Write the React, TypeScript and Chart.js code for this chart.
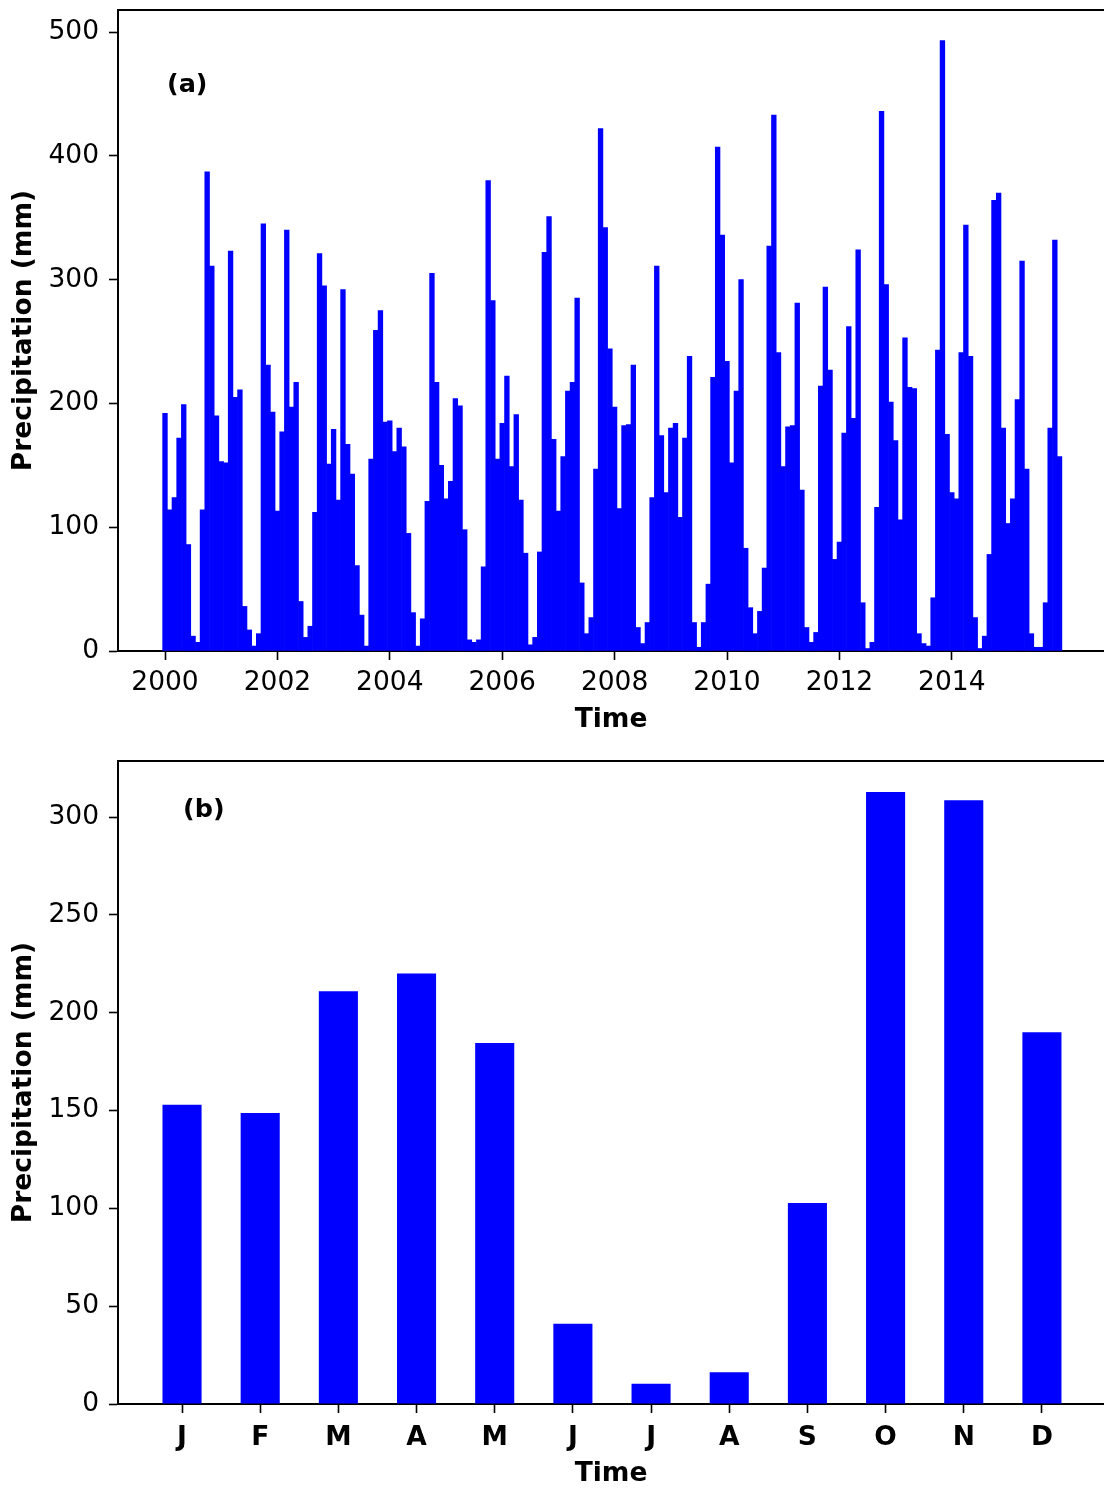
import { useEffect, useRef } from "react";
import { Chart, registerables } from "chart.js";
import type { ChartConfiguration, Plugin, Scale } from "chart.js";

Chart.register(...registerables);

// monthly precipitation (mm), Jan..Dec
const RAIN_2000 = [192, 114, 124, 172, 199, 86, 12, 7, 114, 387, 311, 190];
const RAIN_2001 = [153, 152, 323, 205, 211, 36, 17, 4, 14, 345, 231, 193];
const RAIN_2002 = [113, 177, 340, 197, 217, 40, 11, 20, 112, 321, 295, 151];
const RAIN_2003 = [179, 122, 292, 167, 143, 69, 29, 4, 155, 259, 275, 185];
const RAIN_2004 = [186, 161, 180, 165, 95, 31, 4, 26, 121, 305, 217, 150];
const RAIN_2005 = [123, 137, 204, 198, 98, 9, 7, 9, 68, 380, 283, 155];
const RAIN_2006 = [184, 222, 149, 191, 122, 79, 5, 11, 80, 322, 351, 171];
const RAIN_2007 = [113, 157, 210, 217, 285, 55, 14, 27, 147, 422, 342, 244];
const RAIN_2008 = [197, 115, 182, 183, 231, 19, 6, 23, 124, 311, 174, 128];
const RAIN_2009 = [180, 184, 108, 172, 238, 23, 3, 23, 54, 221, 407, 336];
const RAIN_2010 = [234, 152, 210, 300, 83, 35, 14, 32, 67, 327, 433, 241];
const RAIN_2011 = [149, 181, 182, 281, 130, 19, 7, 15, 214, 294, 227, 74];
const RAIN_2012 = [88, 176, 262, 188, 324, 39, 2, 7, 116, 436, 296, 201];
const RAIN_2013 = [170, 106, 253, 213, 212, 14, 6, 4, 43, 243, 493, 175];
const RAIN_2014 = [128, 123, 241, 344, 238, 27, 2, 12, 78, 364, 370, 180];
const RAIN_2015 = [103, 123, 203, 315, 147, 14, 3, 3, 39, 180, 332, 157];

const YEARS = [2000, 2001, 2002, 2003, 2004, 2005, 2006, 2007, 2008, 2009, 2010, 2011, 2012, 2013, 2014, 2015];
const RAIN_BY_YEAR = [
  RAIN_2000, RAIN_2001, RAIN_2002, RAIN_2003, RAIN_2004, RAIN_2005, RAIN_2006, RAIN_2007,
  RAIN_2008, RAIN_2009, RAIN_2010, RAIN_2011, RAIN_2012, RAIN_2013, RAIN_2014, RAIN_2015,
];

// mean monthly precipitation, panel (b)
const MONTH_LABELS = ["J", "F", "M", "A", "M", "J", "J", "A", "S", "O", "N", "D"];
const MONTH_MEANS = [153, 148.7, 211, 220, 184.5, 41, 10.3, 16.2, 102.7, 312.8, 308.6, 190];

const YEAR_TICKS = [2000, 2002, 2004, 2006, 2008, 2010, 2012, 2014];
const TOP_Y_TICKS = [0, 100, 200, 300, 400, 500];
const BOTTOM_Y_TICKS = [0, 50, 100, 150, 200, 250, 300];

const FONT = "'DejaVu Sans', sans-serif";
const FS = 26.5;
const BLUE = "#0000ff";

const fixY = (w: number) => (s: Scale) => {
  s.width = w;
  s.paddingTop = 0;
  s.paddingBottom = 0;
};
const fixX = (h: number) => (s: Scale) => {
  s.height = h;
  s.paddingLeft = 0;
  s.paddingRight = 0;
};

// top spine + panel tag
const frame = (tag: string, dx: number, dy: number): Plugin<"bar"> => ({
  id: "frame",
  afterDraw(chart) {
    const { ctx, chartArea: a } = chart;
    ctx.save();
    ctx.strokeStyle = "#000";
    ctx.lineWidth = 2;
    ctx.beginPath();
    ctx.moveTo(a.left - 1, a.top);
    ctx.lineTo(a.right, a.top);
    ctx.stroke();
    ctx.fillStyle = "#000";
    ctx.font = `bold 25.5px ${FONT}`;
    ctx.textBaseline = "middle";
    ctx.textAlign = "left";
    ctx.fillText(tag, a.left + dx, a.top + dy);
    ctx.restore();
  },
});

const axisGrid = {
  drawOnChartArea: false,
  drawTicks: true,
  tickLength: 9,
  tickWidth: 1.6,
  color: "#000",
  tickColor: "#000",
};
const axisBorder = { display: true, color: "#000", width: 2 };

function topConfig(): ChartConfiguration<"bar"> {
  const points = RAIN_BY_YEAR.flatMap((vals, yi) => vals.map((v, m) => ({ x: YEARS[yi] + m / 12, y: v })));
  return {
    type: "bar",
    data: {
      datasets: [
        {
          data: points as any,
          backgroundColor: BLUE,
          borderWidth: 0,
          barPercentage: 1,
          categoryPercentage: 1,
        },
      ],
    },
    options: {
      responsive: false,
      animation: false,
      layout: { padding: { top: 10, left: 0, right: 0, bottom: 0 } },
      plugins: { legend: { display: false }, tooltip: { enabled: false } },
      scales: {
        x: {
          type: "linear",
          offset: false,
          min: 1999.1637,
          max: 2016.708,
          afterBuildTicks: (s: Scale) => {
            s.ticks = YEAR_TICKS.map((v) => ({ value: v }));
          },
          afterFit: fixX(93),
          ticks: {
            autoSkip: false,
            maxRotation: 0,
            padding: 7,
            color: "#000",
            font: { family: FONT, size: FS },
            callback: (v) => String(v),
          },
          grid: { ...axisGrid, offset: false },
          border: axisBorder,
          title: {
            display: true,
            text: "Time",
            color: "#000",
            font: { family: FONT, size: FS, weight: "bold" },
            padding: { top: 0, bottom: 8 },
          },
        },
        y: {
          type: "linear",
          min: 0,
          max: 517.8,
          afterBuildTicks: (s: Scale) => {
            s.ticks = TOP_Y_TICKS.map((v) => ({ value: v }));
          },
          afterFit: fixY(118),
          ticks: {
            padding: 10,
            color: "#000",
            font: { family: FONT, size: FS },
            callback: (v) => String(v),
          },
          grid: axisGrid,
          border: axisBorder,
          title: {
            display: true,
            text: "Precipitation (mm)",
            color: "#000",
            font: { family: FONT, size: FS, weight: "bold" },
            padding: { top: 8, bottom: 0 },
          },
        },
      },
    },
    plugins: [frame("(a)", 49, 75)],
  };
}

function bottomConfig(): ChartConfiguration<"bar"> {
  const points = MONTH_MEANS.map((v, i) => ({ x: i, y: v }));
  return {
    type: "bar",
    data: {
      datasets: [
        {
          data: points as any,
          backgroundColor: BLUE,
          borderWidth: 0,
          barPercentage: 0.5,
          categoryPercentage: 1,
        },
      ],
    },
    options: {
      responsive: false,
      animation: false,
      layout: { padding: { top: 17, left: 0, right: 0, bottom: 0 } },
      plugins: { legend: { display: false }, tooltip: { enabled: false } },
      scales: {
        x: {
          type: "linear",
          offset: false,
          min: -0.819,
          max: 11.794,
          afterBuildTicks: (s: Scale) => {
            s.ticks = MONTH_LABELS.map((_, i) => ({ value: i }));
          },
          afterFit: fixX(84),
          ticks: {
            autoSkip: false,
            maxRotation: 0,
            padding: 9,
            color: "#000",
            font: { family: FONT, size: FS, weight: "bold" },
            callback: (v) => MONTH_LABELS[Number(v)] ?? "",
          },
          grid: { ...axisGrid, offset: false },
          border: axisBorder,
          title: {
            display: true,
            text: "Time",
            color: "#000",
            font: { family: FONT, size: FS, weight: "bold" },
            padding: { top: 0, bottom: -2 },
          },
        },
        y: {
          type: "linear",
          min: 0,
          max: 328.65,
          afterBuildTicks: (s: Scale) => {
            s.ticks = BOTTOM_Y_TICKS.map((v) => ({ value: v }));
          },
          afterFit: fixY(118),
          ticks: {
            padding: 10,
            color: "#000",
            font: { family: FONT, size: FS },
            callback: (v) => String(v),
          },
          grid: axisGrid,
          border: axisBorder,
          title: {
            display: true,
            text: "Precipitation (mm)",
            color: "#000",
            font: { family: FONT, size: FS, weight: "bold" },
            padding: { top: 8, bottom: 0 },
          },
        },
      },
    },
    plugins: [frame("(b)", 65, 49)],
  };
}

export default function App() {
  const topRef = useRef<HTMLCanvasElement | null>(null);
  const bottomRef = useRef<HTMLCanvasElement | null>(null);

  useEffect(() => {
    document.body.style.margin = "0";
    if (!topRef.current || !bottomRef.current) return;
    const a = new Chart(topRef.current, topConfig());
    const b = new Chart(bottomRef.current, bottomConfig());
    return () => {
      a.destroy();
      b.destroy();
    };
  }, []);

  return (
    <div style={{ width: 1104, height: 1488, background: "#fff", overflow: "hidden" }}>
      <canvas ref={topRef} width={1104} height={744} style={{ display: "block" }} />
      <canvas ref={bottomRef} width={1104} height={744} style={{ display: "block" }} />
    </div>
  );
}
